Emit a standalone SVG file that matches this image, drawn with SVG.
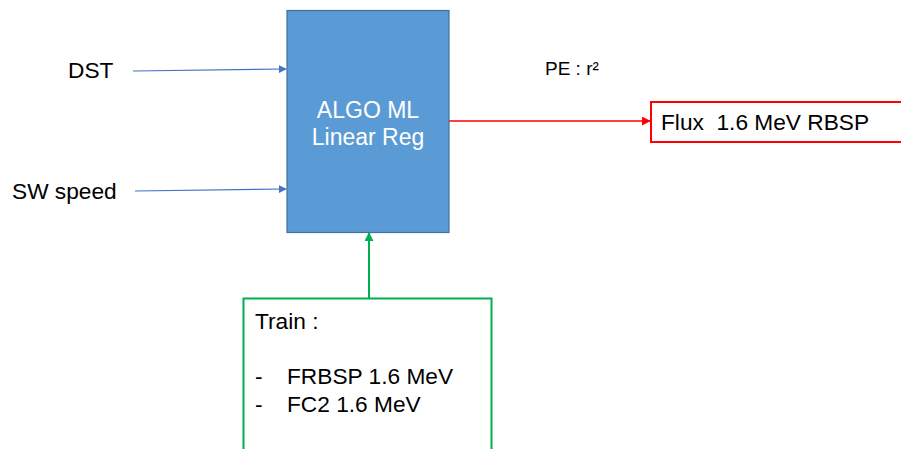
<svg xmlns="http://www.w3.org/2000/svg" width="901" height="449" viewBox="0 0 901 449">
<style>
text{font-family:"Liberation Sans",Arial,sans-serif;font-size:22.7px;fill:#000}
.w{fill:#fff;font-size:23px}
.blue{stroke:#4472C4;stroke-width:1.2;fill:none}
</style>
<defs>
<marker id="ab" viewBox="0 0 10 10" refX="9" refY="5" markerWidth="8" markerHeight="8" markerUnits="userSpaceOnUse" orient="auto"><path d="M0,0L10,5L0,10z" fill="#4472C4"/></marker>
<marker id="ar" viewBox="0 0 10 10" refX="9" refY="5" markerWidth="9" markerHeight="9" markerUnits="userSpaceOnUse" orient="auto"><path d="M0,0L10,5L0,10z" fill="#FF0000"/></marker>
<marker id="ag" viewBox="0 0 10 10" refX="9" refY="5" markerWidth="9" markerHeight="9" markerUnits="userSpaceOnUse" orient="auto"><path d="M0,0L10,5L0,10z" fill="#00B050"/></marker>
</defs>
<rect width="901" height="449" fill="#fff"/>
<g id="connectors">
<line x1="133" y1="71" x2="286" y2="69" class="blue" marker-end="url(#ab)"/>
<line x1="135" y1="191" x2="286" y2="189" class="blue" marker-end="url(#ab)"/>
<line x1="449" y1="121" x2="650" y2="121" stroke="#FF0000" stroke-width="1.5" marker-end="url(#ar)"/>
<line x1="369" y1="298" x2="369" y2="233" stroke="#00B050" stroke-width="2" marker-end="url(#ag)"/>
</g>
<g id="dst"><text x="68" y="78">DST</text></g>
<g id="sw"><text x="12" y="199">SW speed</text></g>
<g id="algo">
<rect x="287" y="10.5" width="162" height="222" fill="#5B9BD5" stroke="#41719C" stroke-width="1.2"/>
<text class="w" x="368" y="118" text-anchor="middle">ALGO ML</text>
<text class="w" x="368" y="145" text-anchor="middle">Linear Reg</text>
</g>
<g id="pe"><text x="545" y="75" style="font-size:19px">PE : r²</text></g>
<g id="flux">
<rect x="651" y="102" width="252" height="40" fill="#fff" stroke="#FF0000" stroke-width="2"/>
<text x="661" y="130" xml:space="preserve">Flux  1.6 MeV RBSP</text>
</g>
<g id="train">
<rect x="243.5" y="298.5" width="248" height="160" fill="#fff" stroke="#00B050" stroke-width="2"/>
<text x="255" y="329">Train :</text>
<text x="255" y="384">-</text>
<text x="287" y="384">FRBSP 1.6 MeV</text>
<text x="255" y="412">-</text>
<text x="287" y="412">FC2 1.6 MeV</text>
</g>
</svg>
